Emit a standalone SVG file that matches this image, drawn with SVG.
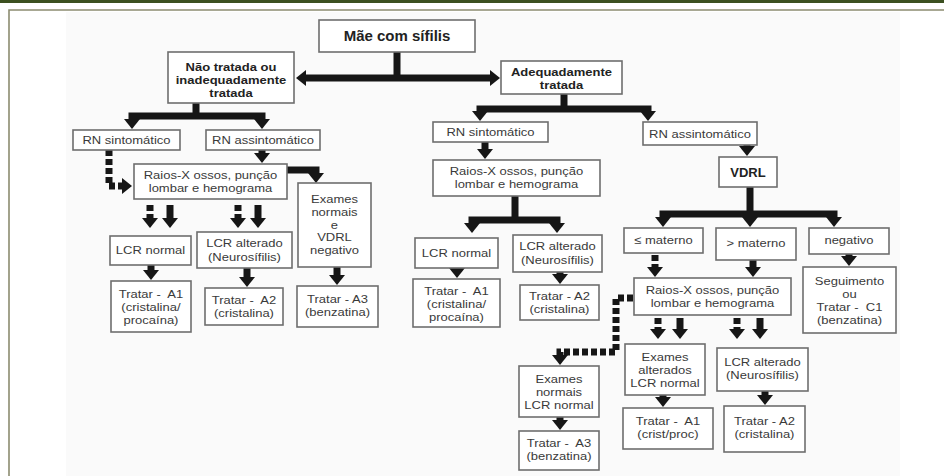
<svg xmlns="http://www.w3.org/2000/svg" width="944" height="476" viewBox="0 0 944 476">
<style>
.box{fill:#fff;stroke:#6e6e6e;stroke-width:1.6}
.t{font-family:"Liberation Sans",Arial,sans-serif;font-size:11.4px;fill:#3a3a3a;text-anchor:middle;white-space:pre;transform-box:fill-box;transform-origin:center;transform:scaleX(1.14)}
.b{font-family:"Liberation Sans",Arial,sans-serif;font-size:11.4px;font-weight:bold;fill:#222;text-anchor:middle;transform-box:fill-box;transform-origin:center;transform:scaleX(1.14)}
.c{fill:none;stroke:#161616;stroke-width:7}
.d{fill:none;stroke:#161616;stroke-width:7;stroke-dasharray:6 3}
</style>
<defs>
<marker id="ah" markerUnits="userSpaceOnUse" markerWidth="12" markerHeight="18" refX="0" refY="8" orient="auto-start-reverse" overflow="visible">
<path d="M0,0 L10,8 L0,16 Z" fill="#161616"/>
</marker>
</defs>
<rect x="0" y="0" width="944" height="476" fill="#fff"/>
<rect x="66" y="12" width="834" height="464" fill="#fafafa"/>
<rect x="0" y="0" width="944" height="3" fill="#3c5020"/>
<path d="M9,476 V10 H944" fill="none" stroke="#8c8c70" stroke-width="1.6"/>

<g id="connectors">
<path class="c" d="M397,52 V78"/>
<path class="c" d="M306,78 H490" marker-start="url(#ah)" marker-end="url(#ah)"/>
<path class="c" d="M196,103 V116"/>
<path class="c" d="M132,119 V116 H262 V119" marker-start="url(#ah)" marker-end="url(#ah)"/>
<path class="d" d="M109,150 V186 H122" marker-end="url(#ah)"/>
<path class="c" d="M262,150 V153" marker-end="url(#ah)"/>
<path class="c" d="M287,170 H316 V173" marker-end="url(#ah)"/>
<path class="d" d="M150,205 V218" marker-end="url(#ah)"/>
<path class="c" d="M170,205 V218" marker-end="url(#ah)"/>
<path class="d" d="M238,205 V218" marker-end="url(#ah)"/>
<path class="c" d="M258,205 V218" marker-end="url(#ah)"/>
<path class="c" d="M151,265 V270" marker-end="url(#ah)"/>
<path class="c" d="M247,268 V277" marker-end="url(#ah)"/>
<path class="c" d="M337,267 V275" marker-end="url(#ah)"/>

<path class="c" d="M564,94 V109"/>
<path class="c" d="M480,111 V109 H648 V111" marker-start="url(#ah)" marker-end="url(#ah)"/>
<path class="c" d="M485,142 V149" marker-end="url(#ah)"/>
<path class="c" d="M515,196 V220"/>
<path class="c" d="M472,223 V220 H557 V223" marker-start="url(#ah)" marker-end="url(#ah)"/>
<path class="c" d="M457,267 V268" marker-end="url(#ah)"/>
<path class="c" d="M560,272 V274" marker-end="url(#ah)"/>

<path class="c" d="M747,145 V146" marker-end="url(#ah)"/>
<path class="c" d="M750,187 V214"/>
<path class="c" d="M663,217 V214 H834 V217" marker-start="url(#ah)" marker-end="url(#ah)"/>
<path class="c" d="M750,214 V217" marker-end="url(#ah)"/>
<path class="c" d="M849,254 V256" marker-end="url(#ah)"/>
<path class="d" d="M655,255 V267" marker-end="url(#ah)"/>
<path class="c" d="M753,260 V267" marker-end="url(#ah)"/>
<path class="d" d="M633,298 H616 V352 H560 V355" marker-end="url(#ah)"/>
<path class="d" d="M658,318 V329" marker-end="url(#ah)"/>
<path class="c" d="M680,318 V329" marker-end="url(#ah)"/>
<path class="d" d="M737,318 V329" marker-end="url(#ah)"/>
<path class="c" d="M760,318 V329" marker-end="url(#ah)"/>
<path class="c" d="M663,395 V397" marker-end="url(#ah)"/>
<path class="c" d="M765,391 V395" marker-end="url(#ah)"/>
<path class="c" d="M560,417 V420" marker-end="url(#ah)"/>
</g>

<g id="n1"><rect class="box" x="319" y="20" width="156" height="32"/><text class="b" style="font-size:15px;transform:none" x="397" y="41">Mãe com sífilis</text></g>
<g id="n2"><rect class="box" x="168" y="52" width="126" height="51"/><text class="b" x="231" y="71">Não tratada ou</text><text class="b" x="231" y="83.8">inadequadamente</text><text class="b" x="231" y="96.6">tratada</text></g>
<g id="n3"><rect class="box" x="501" y="61" width="121" height="33"/><text class="b" x="561.5" y="76">Adequadamente</text><text class="b" x="561.5" y="88.8">tratada</text></g>
<g id="n4"><rect class="box" x="73" y="130" width="107" height="20"/><text class="t" x="126.5" y="144.5">RN sintomático</text></g>
<g id="n5"><rect class="box" x="206" y="130" width="114" height="20"/><text class="t" x="263" y="144.5">RN assintomático</text></g>
<g id="n6"><rect class="box" x="134" y="164" width="153" height="35"/><text class="t" x="210.5" y="179.5">Raios-X ossos, punção</text><text class="t" x="210.5" y="192.5">lombar e hemograma</text></g>
<g id="n7"><rect class="box" x="298" y="183" width="73" height="84"/><text class="t" x="334.5" y="203">Exames</text><text class="t" x="334.5" y="215.8">normais</text><text class="t" x="334.5" y="228.6">e</text><text class="t" x="334.5" y="241.4">VDRL</text><text class="t" x="334.5" y="254.2">negativo</text></g>
<g id="n8"><rect class="box" x="110" y="236" width="81" height="29"/><text class="t" x="150.5" y="254.5">LCR normal</text></g>
<g id="n9"><rect class="box" x="197" y="232" width="95" height="36"/><text class="t" x="244.5" y="247.5">LCR alterado</text><text class="t" x="244.5" y="261">(Neurosífilis)</text></g>
<g id="n10"><rect class="box" x="111" y="281" width="80" height="51"/><text class="t" x="151" y="298">Tratar -  A1</text><text class="t" x="151" y="311">(cristalina/</text><text class="t" x="151" y="324">procaína)</text></g>
<g id="n11"><rect class="box" x="205" y="288" width="78" height="37"/><text class="t" x="244" y="304.5">Tratar -  A2</text><text class="t" x="244" y="317.5">(cristalina)</text></g>
<g id="n12"><rect class="box" x="297" y="286" width="81" height="41"/><text class="t" x="337.5" y="303">Tratar - A3</text><text class="t" x="337.5" y="316.5">(benzatina)</text></g>
<g id="n13"><rect class="box" x="433" y="122" width="115" height="20"/><text class="t" x="490.5" y="136.5">RN sintomático</text></g>
<g id="n14"><rect class="box" x="643" y="122" width="114" height="23"/><text class="t" x="700" y="138">RN assintomático</text></g>
<g id="n15"><rect class="box" x="433" y="160" width="167" height="36"/><text class="t" x="516.5" y="175">Raios-X ossos, punção</text><text class="t" x="516.5" y="188">lombar e hemograma</text></g>
<g id="n16"><rect class="box" x="415" y="238" width="83" height="30"/><text class="t" x="456.5" y="257.5">LCR normal</text></g>
<g id="n17"><rect class="box" x="513" y="235" width="89" height="37"/><text class="t" x="557.5" y="250.5">LCR alterado</text><text class="t" x="557.5" y="264">(Neurosífilis)</text></g>
<g id="n18"><rect class="box" x="413" y="279" width="87" height="48"/><text class="t" x="456.5" y="295">Tratar -  A1</text><text class="t" x="456.5" y="308">(cristalina/</text><text class="t" x="456.5" y="321">procaína)</text></g>
<g id="n19"><rect class="box" x="520" y="285" width="79" height="35"/><text class="t" x="559.5" y="300">Tratar - A2</text><text class="t" x="559.5" y="313">(cristalina)</text></g>
<g id="n20"><rect class="box" x="719" y="157" width="58" height="30"/><text class="b" style="font-size:13px;transform:none" x="748" y="177">VDRL</text></g>
<g id="n21"><rect class="box" x="624" y="228" width="79" height="25"/><text class="t" x="663.5" y="244.5">≤ materno</text></g>
<g id="n22"><rect class="box" x="716" y="228" width="80" height="32"/><text class="t" x="756" y="247.5">&gt; materno</text></g>
<g id="n23"><rect class="box" x="809" y="228" width="80" height="26"/><text class="t" x="849" y="244.5">negativo</text></g>
<g id="n24"><rect class="box" x="803" y="267" width="93" height="66"/><text class="t" x="849.5" y="285">Seguimento</text><text class="t" x="849.5" y="298">ou</text><text class="t" x="849.5" y="311">Tratar -  C1</text><text class="t" x="849.5" y="324">(benzatina)</text></g>
<g id="n25"><rect class="box" x="634" y="278" width="157" height="37"/><text class="t" x="712.5" y="294">Raios-X ossos, punção</text><text class="t" x="712.5" y="307">lombar e hemograma</text></g>
<g id="n26"><rect class="box" x="625" y="344" width="80" height="51"/><text class="t" x="665" y="361">Exames</text><text class="t" x="665" y="373.8">alterados</text><text class="t" x="665" y="386.6">LCR normal</text></g>
<g id="n27"><rect class="box" x="717" y="348" width="91" height="43"/><text class="t" x="762.5" y="366">LCR alterado</text><text class="t" x="762.5" y="379">(Neurosífilis)</text></g>
<g id="n28"><rect class="box" x="519" y="366" width="80" height="51"/><text class="t" x="559" y="383.5">Exames</text><text class="t" x="559" y="396.3">normais</text><text class="t" x="559" y="409.1">LCR normal</text></g>
<g id="n29"><rect class="box" x="519" y="431" width="80" height="39"/><text class="t" x="559" y="447.5">Tratar -  A3</text><text class="t" x="559" y="460.5">(benzatina)</text></g>
<g id="n30"><rect class="box" x="623" y="408" width="90" height="41"/><text class="t" x="668" y="425">Tratar -  A1</text><text class="t" x="668" y="438.5">(crist/proc)</text></g>
<g id="n31"><rect class="box" x="724" y="406" width="81" height="46"/><text class="t" x="764.5" y="425">Tratar - A2</text><text class="t" x="764.5" y="438.5">(cristalina)</text></g>
</svg>
